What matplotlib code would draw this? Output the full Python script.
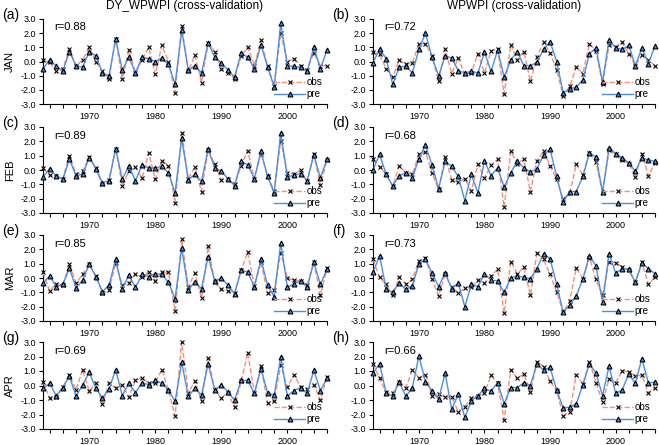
import matplotlib.pyplot as plt
import numpy as np

plt.rcParams['font.family'] = ['Liberation Sans', 'DejaVu Sans']

# years 1963-2006
years = np.arange(1963, 2007)

# JAN
obs_a = [0.1, -0.05, -0.7, -0.5, 0.85, -0.3, 0.1, 1.0, 0.0, -0.7, -1.2, 1.6, -1.2, 0.8, -0.8, 0.1, 1.0, -0.9, 1.15, 0.0,
         -2.2, 2.5, -0.7, 0.45, -1.5, 1.3, 0.7, -0.5, -0.8, -1.2, 0.4, 1.0, -0.3, 1.5, -0.3, -1.7, 2.0, 0.0, 0.2, -0.3,
         -0.6, 0.6, -0.3, -0.3]
pre_a = [-0.5, 0.1, -0.3, -0.7, 0.7, -0.3, -0.4, 0.7, 0.4, -0.8, -1.0, 1.6, -0.6, 0.3, -0.8, 0.3, 0.2, 0.0, 0.25, -0.2,
         -1.6, 2.2, -0.6, -0.3, -0.8, 1.3, 0.3, -0.1, -0.6, -1.1, 0.6, 0.3, -0.5, 1.2, -0.4, -1.8, 2.7, -0.3, -0.35, -0.4,
         -0.7, 1.0, -0.5, 0.8]
obs_b = [0.65, 0.5, -0.5, -1.1, 0.1, -0.2, -0.1, 1.25, 1.25, 0.4, -1.4, 0.85, -0.85, 0.25, -0.9, -0.8, 0.55, -0.8, 0.75, 0.9,
         -2.3, 1.2, 0.1, 0.7, -1.4, 0.35, 1.35, 0.6, -0.6, -2.4, -1.75, -0.4, -0.85, 1.25, 0.75, -1.6, 1.15, 1.05, 1.35, 0.55,
         -0.3, 0.45, 0.1, -0.3]
pre_b = [-0.1, 0.9, 0.2, -1.6, -0.4, -0.35, -0.8, 0.85, 2.0, 0.3, -1.0, 0.4, 0.25, -0.65, -0.8, -0.7, -0.8, 0.65, -0.7, 0.8,
         -1.1, 0.1, 0.7, -0.3, -0.3, -0.05, 0.85, 1.4, 0.0, -2.2, -1.95, -1.8, -1.3, 0.55, 0.95, -1.45, 1.55, 0.95, 0.85, 1.15,
         -0.3, 0.95, -0.15, 1.1]

# FEB
obs_c = [0.15, -0.35, -0.4, -0.6, 1.0, -0.3, -0.1, 0.9, 0.15, -1.0, -0.7, 1.5, -1.1, -0.1, 0.2, -0.55, 1.2, -0.65, 0.65, 0.3,
         -2.3, 2.6, -0.6, 0.2, -1.5, 1.4, 0.4, -0.7, -0.6, -1.0, 0.3, 1.35, -0.6, 1.15, -0.4, -1.45, 2.05, -0.2, -0.3, 0.0,
         -0.8, 1.1, -1.05, 0.7]
pre_c = [-0.5, 0.1, -0.4, -0.65, 0.75, -0.4, -0.3, 0.85, 0.1, -0.9, -0.75, 1.5, -0.65, 0.3, -0.75, 0.35, 0.15, 0.15, 0.25, -0.2,
         -1.6, 2.2, -0.7, -0.3, -0.8, 1.45, 0.15, -0.1, -0.6, -1.1, 0.6, 0.35, -0.6, 1.3, -0.45, -1.6, 2.6, -0.5, -0.35, -0.25,
         -0.75, 1.05, -0.55, 0.75]
obs_d = [0.75, 0.2, -0.3, -1.15, 0.3, -0.2, -0.3, 1.1, 1.25, -0.2, -1.35, 0.9, -0.7, -0.85, -0.6, -1.45, 0.4, -0.55, 0.35, 0.75,
         -2.6, 1.3, 0.45, 0.75, -1.5, 0.65, 1.3, 0.3, -0.65, -2.0, -1.6, 0.4, -0.35, 1.2, 0.55, -1.6, 1.4, 1.1, 0.7, 0.45,
         -0.5, 1.15, -0.4, 0.5]
pre_d = [0.0, 1.1, -0.3, -1.1, -0.4, -0.2, -0.55, 0.8, 1.75, 0.35, -1.3, 0.6, 0.25, -0.45, -2.15, -0.3, -1.6, 0.65, -0.4, 0.15,
         -1.2, -0.2, 0.6, 0.15, -0.15, 0.1, 1.05, 1.45, -0.45, -2.25, -1.5, -1.5, -0.45, 1.2, 0.9, -1.55, 1.55, 1.15, 0.85, 0.5,
         -0.1, 0.85, 0.7, 0.6]

# MAR
obs_e = [0.4, -0.9, -0.4, -0.5, 0.95, -0.35, 0.25, 1.0, 0.15, -1.05, -0.85, 1.05, -0.5, -0.35, 0.3, 0.05, 0.45, -0.2, 0.4, 0.4,
         -2.3, 2.7, -0.6, 0.35, -1.4, 2.2, -0.3, -0.8, -0.9, -1.05, 0.55, 1.8, -0.55, 1.1, -1.05, -0.85, 1.75, 0.0, -0.15, -0.2,
         -0.5, 1.1, -1.2, 0.7]
pre_e = [-0.35, 0.15, -0.6, -0.45, 0.7, -0.7, -0.15, 0.95, 0.1, -0.95, -0.5, 1.3, -0.75, 0.2, -0.65, 0.25, 0.1, 0.3, 0.25, -0.3,
         -1.45, 2.1, -0.85, -0.25, -0.75, 1.5, -0.2, 0.0, -0.5, -1.1, 0.55, 0.4, -0.6, 1.3, -0.5, -1.3, 2.45, -0.65, -0.4, -0.2,
         -0.65, 1.1, -0.45, 0.6]
obs_f = [1.3, 0.05, -0.45, -1.2, 0.05, -0.4, -0.1, 1.2, 1.4, -0.05, -1.25, 0.25, -0.65, -1.05, -0.7, -0.65, -0.15, -0.35, 0.15, 0.6,
         -2.45, 1.15, 0.3, 0.75, -1.2, 1.75, 1.3, 0.25, -0.95, -2.4, -1.6, 0.7, -0.05, 1.4, -0.1, -1.2, 1.15, 1.05, 0.8, 0.55,
         -0.3, 1.1, -0.45, 0.1]
pre_f = [0.4, 1.55, -0.75, -1.0, -0.35, -0.8, -0.55, 1.0, 1.3, 0.35, -0.6, 0.35, -0.75, -0.35, -2.0, -0.45, -0.6, 0.3, -0.15, -0.2,
         -1.0, 0.0, 0.15, 0.05, -0.05, 0.65, 1.7, 1.35, -0.45, -2.4, -1.9, -1.25, -0.05, 1.55, 0.85, -1.7, 1.7, 0.35, 0.65, 0.6,
         -0.3, 1.05, 0.65, 0.3]

# APR
obs_g = [0.25, -0.85, -0.8, -0.1, 0.7, -0.3, 1.1, -0.4, 0.2, -1.3, 0.15, -0.15, 0.05, -0.8, 0.35, 0.55, 0.15, 0.2, 1.1, -0.35,
         -2.1, 3.0, -0.5, 0.3, -1.1, 1.9, -0.3, -0.85, -0.5, -1.5, 0.3, 2.25, -0.55, 1.35, -1.2, -1.1, 1.4, -0.1, 0.75, -0.1,
         -0.25, 0.05, -1.0, 0.6]
pre_g = [-0.2, 0.15, -0.7, -0.15, 0.65, -0.75, 0.05, 0.9, -0.2, -0.85, -0.25, 1.1, -0.7, 0.15, -0.5, 0.2, 0.05, 0.35, 0.15, -0.3,
         -1.1, 1.6, -0.75, -0.2, -0.65, 1.5, -0.3, 0.05, -0.45, -1.0, 0.35, 0.35, -0.55, 1.15, -0.5, -0.65, 1.95, -0.75, -0.35, -0.15,
         -0.55, 1.05, -0.35, 0.5]
obs_h = [1.5, 0.5, -0.45, -0.55, 0.25, -0.15, 1.05, 0.55, 0.75, -0.7, -0.6, -0.8, -0.8, -1.8, -1.45, -0.85, -0.75, -0.5, 0.7, 0.15,
         -2.35, 1.1, 0.5, 0.8, -0.45, 1.65, 1.3, 0.3, -0.35, -2.1, -1.8, 0.75, 0.1, 1.65, 0.2, -1.15, 0.45, 0.2, 1.0, 0.95,
         0.65, 0.7, -0.5, -0.15]
pre_h = [0.85, 1.5, -0.5, -0.75, 0.25, -0.75, -0.15, 2.05, 0.25, -0.35, -0.95, 0.85, -1.65, -0.6, -2.2, -1.05, -0.7, -0.2, -0.4, 0.2,
         -1.25, -0.15, -0.15, 0.2, 0.0, 1.5, 1.05, 1.25, -0.3, -1.55, -1.5, -1.25, 0.05, 1.5, 0.85, -0.7, 1.35, -0.55, -0.3, 0.8,
         0.15, 1.85, 0.15, 0.25]

months = ['JAN', 'FEB', 'MAR', 'APR']
left_obs = [obs_a, obs_c, obs_e, obs_g]
left_pre = [pre_a, pre_c, pre_e, pre_g]
right_obs = [obs_b, obs_d, obs_f, obs_h]
right_pre = [pre_b, pre_d, pre_f, pre_h]
left_r = ['r=0.88', 'r=0.89', 'r=0.85', 'r=0.69']
right_r = ['r=0.72', 'r=0.68', 'r=0.73', 'r=0.66']
left_tags = ['(a)', '(c)', '(e)', '(g)']
right_tags = ['(b)', '(d)', '(f)', '(h)']

W, H = 659, 445
fig = plt.figure(figsize=(W / 100, H / 100), dpi=100)

obs_color = '#f4907c'
pre_color = '#4a8fe4'

# pixel boxes of each row (top, bottom)
rows = [(19, 104), (127, 213), (235, 321), (342, 429)]
cols = [(43, 327), (373, 655)]


def draw(ax, obs, pre, rtext):
    ax.plot(years, obs, color=obs_color, ls='--', lw=1.0, marker='x', ms=3.5,
            mec='black', mew=0.8, label='obs', clip_on=False, zorder=3)
    ax.plot(years, pre, color=pre_color, ls='-', lw=1.0, marker='^', ms=3.5,
            mec='black', mfc=pre_color, mew=0.8, label='pre', clip_on=False, zorder=4)
    ax.set_xlim(1963, 2006)
    ax.set_ylim(-3, 3)
    ax.set_yticks(np.arange(-3, 3.1, 1.0))
    ax.set_yticklabels(['%.1f' % v for v in np.arange(-3, 3.1, 1.0)], fontsize=6.5)
    ax.set_xticks(np.arange(1964, 2007, 2))
    ax.set_xticklabels([str(y) if y % 10 == 0 else '' for y in range(1964, 2007, 2)], fontsize=6.5)
    ax.tick_params(direction='out', length=3, width=0.8, pad=2)
    ax.tick_params(axis='x', pad=3)
    ax.spines['top'].set_visible(False)
    ax.spines['right'].set_visible(False)
    ax.text(0.04, 0.90, rtext, transform=ax.transAxes, fontsize=8, va='center')
    ax.legend(loc='lower right', frameon=False, fontsize=7, handlelength=3.2,
              handletextpad=0.1, labelspacing=0.2, borderaxespad=0.1)


for i in range(4):
    top, bot = rows[i]
    for j, (x0, x1) in enumerate(cols):
        ax = fig.add_axes([x0 / W, 1 - bot / H, (x1 - x0) / W, (bot - top) / H])
        if j == 0:
            draw(ax, left_obs[i], left_pre[i], left_r[i])
            ax.set_ylabel(months[i], fontsize=8, labelpad=4)
            fig.text(2 / W, 1 - (top - 4) / H, left_tags[i], fontsize=10, va='center', ha='left')
        else:
            draw(ax, right_obs[i], right_pre[i], right_r[i])
            fig.text(332 / W, 1 - (top - 4) / H, right_tags[i], fontsize=10, va='center', ha='left')

fig.text(185 / W, 1 - 6 / H, 'DY_WPWPI (cross-validation)', fontsize=8.5, ha='center', va='center')
fig.text(514 / W, 1 - 6 / H, 'WPWPI (cross-validation)', fontsize=8.5, ha='center', va='center')

fig.savefig('out.png', dpi=100)
